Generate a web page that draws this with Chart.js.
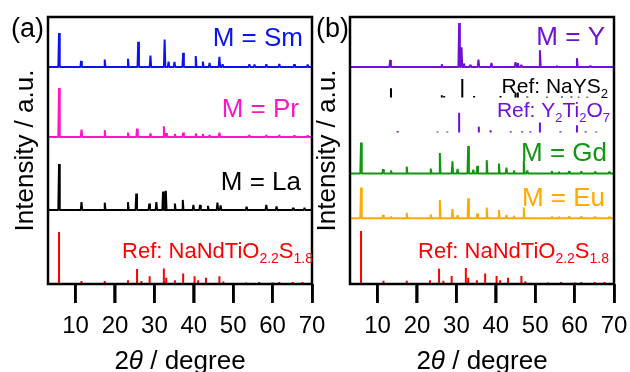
<!DOCTYPE html>
<html>
<head>
<meta charset="utf-8">
<script src="https://cdn.jsdelivr.net/npm/chart.js@4.4.1/dist/chart.umd.min.js"></script>
<style>
  html, body { margin: 0; padding: 0; background: #fff; }
  #xrd-chart { display: block; }
</style>
</head>
<body>
<canvas id="xrd-chart" width="630" height="372"></canvas>
<script>
var FONT = '"Liberation Sans", Arial, Helvetica, sans-serif';

/**
 *  Axis range and tick labels (2theta, degree), shared by both panels
 */
var xMin = 3, xMax = 70;
var xTicks = [10, 20, 30, 40, 50, 60, 70];

/**
 *  Panel (a): peak positions (deg) and relative intensities (%)
 */
var smPos = [5.8, 11.4, 17.4, 23.3, 25.9, 29.0, 32.6, 33.6, 35.1, 37.3, 40.5, 42.3, 44.0, 46.5, 47.3, 54.1, 55.4, 58.4, 61.7, 65.5, 68.9];
var smInt = [100, 18, 22, 24, 74, 34, 81, 16, 15, 42, 32, 16, 12, 30, 8, 8, 7, 8, 9, 8, 7];

var prPos = [5.8, 11.5, 17.4, 23.3, 25.6, 29.0, 32.4, 33.0, 35.2, 37.3, 40.5, 42.3, 44.0, 46.5, 54.1, 58.4, 61.7, 65.5, 68.9];
var prInt = [100, 15, 14, 9, 17, 7, 22, 8, 6, 9, 7, 6, 4, 9, 4, 4, 4, 3, 3];

var laPos = [5.8, 11.5, 17.4, 23.3, 25.4, 28.7, 30.5, 32.2, 32.9, 35.2, 37.2, 39.9, 41.6, 43.6, 46.0, 46.8, 53.4, 58.4, 61.0, 65.2, 68.1];
var laInt = [100, 17, 16, 17, 36, 14, 17, 40, 42, 14, 22, 11, 11, 9, 16, 10, 7, 11, 8, 5, 5];

// reference NaNdTiO2.2S1.8 (sticks), used in both panels
var refPos = [5.8, 11.5, 17.4, 23.3, 25.6, 26.7, 28.8, 32.4, 33.0, 35.2, 37.3, 40.2, 41.1, 43.1, 46.5, 47.5, 53.3, 56.6, 60.0, 61.7, 65.1, 67.6];
var refInt = [100, 6, 6, 7, 29, 6, 15, 30, 12, 7, 20, 15, 7, 12, 15, 5, 3, 4, 3, 4, 4, 4];

/**
 *  Panel (b)
 */
var yPos = [13.2, 26.3, 30.7, 31.3, 31.9, 33.5, 35.6, 38.9, 45.0, 45.6, 46.5, 51.2, 55.5, 60.6, 64.0];
var yInt = [16, 6, 100, 45, 8, 5, 17, 9, 11, 9, 5, 38, 3, 20, 3];

var naysPos = [13.4, 26.3, 26.9, 31.5, 34.5, 41.2, 45.0, 45.6, 48.0, 53.0, 56.8, 59.2, 61.0, 63.2, 67.5];
var naysInt = [50, 12, 8, 100, 8, 8, 27, 27, 6, 4, 5, 5, 4, 4, 4];

var ytoPos = [15.1, 25.2, 27.7, 30.7, 35.7, 38.7, 43.8, 46.7, 48.8, 51.2, 56.4, 60.6, 62.8, 65.5];
var ytoInt = [8, 5, 5, 100, 29, 12, 6, 6, 6, 51, 6, 37, 6, 5];

var gdPos = [5.8, 11.4, 13.4, 17.4, 23.5, 25.8, 29.0, 30.3, 33.0, 34.3, 35.3, 37.7, 40.8, 42.7, 44.6, 47.1, 48.0, 54.2, 56.0, 58.6, 61.7, 65.2, 68.8];
var gdInt = [100, 14, 10, 22, 16, 66, 39, 15, 89, 12, 25, 43, 32, 19, 10, 41, 10, 8, 6, 8, 7, 6, 6];

var euPos = [5.8, 11.4, 13.4, 17.4, 23.5, 25.8, 29.0, 30.3, 33.0, 35.3, 37.7, 40.8, 42.7, 44.6, 47.1, 54.2, 56.0, 58.6, 61.7, 65.2, 68.8];
var euInt = [100, 11, 6, 18, 13, 60, 30, 10, 65, 16, 35, 27, 11, 8, 35, 6, 5, 6, 6, 5, 5];

/**
 *  Both panels share one x scale: panel (b) sits to the right of panel (a),
 *  shifted by the panel width plus the gap between the frames
 */
var bShift = 76.64;

/**
 *  Build a measured pattern: flat baseline with a sharp spike at each peak
 */
function pattern(pos, inten, base, full, shift)
{
    var pts = [{x: xMin + shift, y: base}];
    pos.forEach(function (p, i) {
        pts.push({x: p + shift - 0.18, y: base});
        pts.push({x: p + shift, y: base + inten[i] * full / 100});
        pts.push({x: p + shift + 0.18, y: base});
    });
    pts.push({x: xMax + shift, y: base});
    return pts;
}

/**
 *  Build a reference stick pattern (gaps between sticks)
 */
function sticks(pos, inten, base, full, shift)
{
    var pts = [];
    pos.forEach(function (p, i) {
        pts.push({x: p + shift, y: base});
        pts.push({x: p + shift, y: base + inten[i] * full / 100});
        pts.push({x: p + shift, y: null});
    });
    return pts;
}

function ds(data, color)
{
    return {
        data: data,
        borderColor: color,
        borderWidth: 2,
        borderJoinStyle: 'bevel',
        pointRadius: 0,
        spanGaps: false,
        tension: 0
    };
}

function drawRich(ctx, parts, right, mid, size, color)
{
    var sub = Math.round(size * 0.62);
    var widths = parts.map(function (p) {
        ctx.font = (p.sub ? sub : size) + 'px ' + FONT;
        return ctx.measureText(p.t).width;
    });
    var x = right - widths.reduce(function (s, w) { return s + w; }, 0);
    var base = mid + size * 0.358;
    ctx.fillStyle = color;
    ctx.textAlign = 'left';
    ctx.textBaseline = 'alphabetic';
    parts.forEach(function (p, i) {
        ctx.font = (p.sub ? sub : size) + 'px ' + FONT;
        ctx.fillText(p.t, x, p.sub ? base + size * 0.24 : base);
        x += widths[i];
    });
}

var BLUE = '#0a14f0', MAGENTA = '#ff14c8', BLACK = '#000000', RED = '#ff0000';
var PURPLE = '#6e10d8', GREEN = '#129612', ORANGE = '#ffaa00';

var refParts = [{t: 'Ref: NaNdTiO'}, {t: '2.2', sub: true}, {t: 'S'}, {t: '1.8', sub: true}];

var traceLabels = [
    { parts: [{t: 'M = Sm'}], right: 303, mid: 36.5, size: 26, color: BLUE },
    { parts: [{t: 'M = Pr'}], right: 299, mid: 108, size: 26, color: MAGENTA },
    { parts: [{t: 'M = La'}], right: 301, mid: 181, size: 26, color: BLACK },
    { parts: refParts, right: 313, mid: 250, size: 22, color: RED },
    { parts: [{t: 'M = Y'}], right: 605, mid: 35.5, size: 26, color: PURPLE },
    { parts: [{t: 'Ref: NaYS'}, {t: '2', sub: true}], right: 608, mid: 85, size: 21, color: BLACK },
    { parts: [{t: 'Ref: Y'}, {t: '2', sub: true}, {t: 'Ti'}, {t: '2', sub: true}, {t: 'O'}, {t: '7', sub: true}], right: 610, mid: 109.5, size: 21, color: PURPLE },
    { parts: [{t: 'M = Gd'}], right: 607, mid: 152, size: 26, color: GREEN },
    { parts: [{t: 'M = Eu'}], right: 605, mid: 197, size: 26, color: ORANGE },
    { parts: refParts, right: 609, mid: 250, size: 22, color: RED }
];

/**
 *  Plugin: panel frames, second y title, x titles, panel letters, trace labels
 */
var decoPlugin = {
    id: 'deco',
    afterDraw: function (chart) {
        var ctx = chart.ctx, a = chart.chartArea, xs = chart.scales.x;
        var panels = [0, bShift].map(function (s) {
            return { left: xs.getPixelForValue(xMin + s), right: xs.getPixelForValue(xMax + s) };
        });
        ctx.save();

        // frames
        ctx.strokeStyle = '#000';
        ctx.lineWidth = 2.5;
        panels.forEach(function (p) {
            ctx.strokeRect(p.left, a.top, p.right - p.left, a.bottom - a.top);
        });

        // outer tick marks
        ctx.beginPath();
        [0, bShift].forEach(function (s) {
            xTicks.forEach(function (v) {
                var px = Math.round(xs.getPixelForValue(v + s) - 1.25) + 1.25;
                ctx.moveTo(px, a.bottom);
                ctx.lineTo(px, a.bottom + 19);
            });
        });
        ctx.stroke();

        ctx.fillStyle = '#000';
        ctx.textAlign = 'left';
        ctx.textBaseline = 'alphabetic';

        // panel letters
        ctx.font = '27px ' + FONT;
        ctx.fillText('(a)', 11, 37);
        ctx.fillText('(b)', 316, 37);

        // y title of panel (b), same offset from its frame as panel (a)
        var yTitleX = chart.scales.y.left + 13 + (panels[1].left - panels[0].left);
        ctx.save();
        ctx.translate(yTitleX, (a.top + a.bottom) / 2);
        ctx.rotate(-Math.PI / 2);
        ctx.font = '26px ' + FONT;
        ctx.textAlign = 'center';
        ctx.textBaseline = 'middle';
        ctx.fillText('Intensity / a.u.', 0, 0);
        ctx.restore();

        // x titles: 2θ / degree
        panels.forEach(function (p) {
            var cx = (p.left + p.right) / 2, ty = 369;
            ctx.font = '26px ' + FONT;
            var w1 = ctx.measureText('2').width, w3 = ctx.measureText(' / degree').width;
            ctx.font = 'italic 26px ' + FONT;
            var w2 = ctx.measureText('\u03B8').width;
            var tx = cx - (w1 + w2 + w3) / 2;
            ctx.font = '26px ' + FONT;
            ctx.fillText('2', tx, ty);
            ctx.font = 'italic 26px ' + FONT;
            ctx.fillText('\u03B8', tx + w1, ty);
            ctx.font = '26px ' + FONT;
            ctx.fillText(' / degree', tx + w1 + w2, ty);
        });

        // trace labels
        traceLabels.forEach(function (it) {
            drawRich(ctx, it.parts, it.right, it.mid, it.size, it.color);
        });
        ctx.restore();
    }
};

new Chart(document.getElementById('xrd-chart'), {
    type: 'line',
    data: {
        datasets: [
            ds(pattern(smPos, smInt, 217, 34, 0), BLUE),
            ds(pattern(prPos, prInt, 147, 49, 0), MAGENTA),
            ds(pattern(laPos, laInt, 74, 46, 0), BLACK),
            ds(sticks(refPos, refInt, 0, 52, 0), RED),
            ds(pattern(yPos, yInt, 217, 44, bShift), PURPLE),
            ds(sticks(naysPos, naysInt, 186.5, 18.5, bShift), BLACK),
            ds(sticks(ytoPos, ytoInt, 151.5, 19.7, bShift), PURPLE),
            ds(pattern(gdPos, gdInt, 110.5, 31, bShift), GREEN),
            ds(pattern(euPos, euInt, 65.7, 30.7, bShift), ORANGE),
            ds(sticks(refPos, refInt, 0, 53, bShift), RED)
        ]
    },
    options: {
        responsive: false,
        animation: false,
        layout: { padding: { left: 13, right: 16, top: 17, bottom: 23 } },
        plugins: {
            legend: { display: false },
            tooltip: { enabled: false }
        },
        scales: {
            x: {
                type: 'linear',
                min: xMin,
                max: xMax + bShift,
                afterBuildTicks: function (scale) {
                    scale.ticks = xTicks.concat(xTicks.map(function (v) { return v + bShift; }))
                        .map(function (v) { return {value: v}; });
                },
                grid: { drawOnChartArea: false, tickLength: 19, tickWidth: 2.5, tickColor: '#000' },
                border: { display: false },
                ticks: {
                    color: '#000',
                    font: { family: FONT, size: 24, lineHeight: 1.75 },
                    padding: 2,
                    maxRotation: 0,
                    autoSkip: false,
                    callback: function (value) {
                        return String(Math.round(value > xMax + 1 ? value - bShift : value));
                    }
                }
            },
            y: {
                min: 0,
                max: 267,
                ticks: { display: false },
                grid: { display: false, drawTicks: false },
                border: { display: false },
                title: {
                    display: true,
                    text: 'Intensity / a.u.',
                    color: '#000',
                    font: { family: FONT, size: 26, lineHeight: 1 },
                    padding: { top: 0, bottom: 9 }
                }
            }
        }
    },
    plugins: [decoPlugin]
});
</script>
</body>
</html>
